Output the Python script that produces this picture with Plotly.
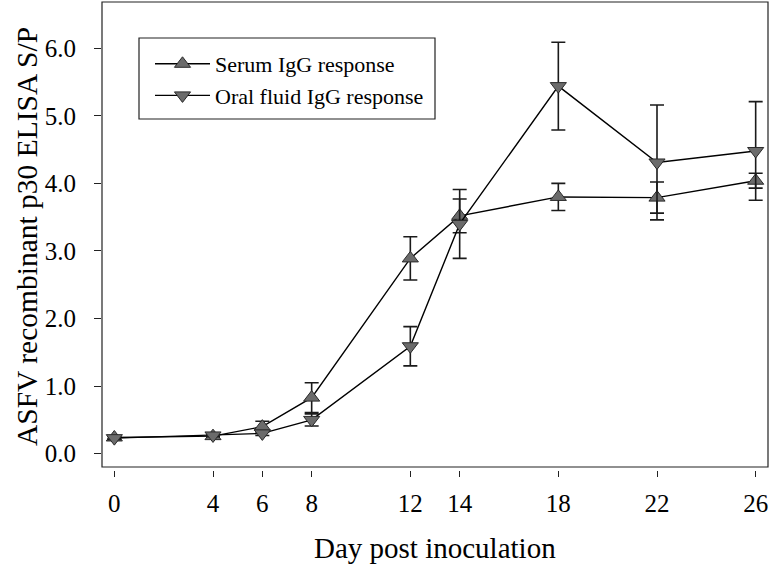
import plotly.graph_objects as go

days = [0, 4, 6, 8, 12, 14, 18, 22, 26]
tick_days = [0, 4, 6, 8, 12, 14, 18, 22, 26]
serum = [0.24, 0.26, 0.40, 0.83, 2.89, 3.52, 3.80, 3.79, 4.04]
serum_err = [0.02, 0.02, 0.08, 0.22, 0.32, 0.25, 0.20, 0.23, 0.11]
oral = [0.23, 0.27, 0.30, 0.50, 1.59, 3.40, 5.44, 4.31, 4.48]
oral_err = [0.02, 0.02, 0.03, 0.09, 0.29, 0.51, 0.65, 0.85, 0.73]
y_ticks = [0, 1, 2, 3, 4, 5, 6]

FONT = "Liberation Serif, Times New Roman, serif"
MFILL = "#6b6b6b"
MLINE = "#2a2a2a"

# geometry (pixels) used to place titles / legend frame
L, R, T, B = 102, 768, 2, 470
W, H = R - L, B - T


def px(x):
    return (x - L) / W


def py(y):
    return (B - y) / H


fig = go.Figure()
fig.add_trace(go.Scatter(
    x=days, y=serum, name="Serum IgG response", mode="lines+markers",
    line=dict(color="black", width=1.4),
    marker=dict(symbol="triangle-up", size=14, color=MFILL, line=dict(color=MLINE, width=1)),
    error_y=dict(type="data", array=serum_err, visible=True, color="#1a1a1a", thickness=1.6, width=7),
))
fig.add_trace(go.Scatter(
    x=days, y=oral, name="Oral fluid IgG response", mode="lines+markers",
    line=dict(color="black", width=1.4),
    marker=dict(symbol="triangle-down", size=14, color=MFILL, line=dict(color=MLINE, width=1)),
    error_y=dict(type="data", array=oral_err, visible=True, color="#1a1a1a", thickness=1.6, width=7),
))

# frame around the plotting region (y domain)
fig.add_shape(type="rect", xref="x domain", yref="y domain", x0=0, x1=1, y0=0, y1=1,
              line=dict(color="#222222", width=1.2), fillcolor="rgba(0,0,0,0)", layer="above")
# legend box
fig.add_shape(type="rect", xref="paper", yref="paper", x0=px(139), x1=px(435), y0=py(119), y1=py(38),
              line=dict(color="#222222", width=1.2), fillcolor="rgba(0,0,0,0)", layer="above")

fig.add_annotation(text="Day post inoculation", xref="paper", yref="paper",
                   x=px(435), y=py(548), xanchor="center", yanchor="middle", showarrow=False,
                   font=dict(family=FONT, size=29, color="black"))
fig.add_annotation(text="ASFV recombinant p30 ELISA S/P", xref="paper", yref="paper",
                   x=px(27), y=py(237), xanchor="center", yanchor="middle", showarrow=False,
                   textangle=-90, font=dict(family=FONT, size=29.5, color="black"))

fig.update_layout(
    width=770, height=567,
    margin=dict(l=L, r=770 - R, t=T, b=567 - B, autoexpand=False),
    paper_bgcolor="white", plot_bgcolor="white",
    font=dict(family=FONT, color="black", size=24),
    showlegend=True,
    legend=dict(
        x=px(150), y=py(43), xanchor="left", yanchor="top",
        bgcolor="rgba(0,0,0,0)", borderwidth=0,
        font=dict(family=FONT, size=22, color="black"),
        itemwidth=55, tracegroupgap=0,
    ),
    xaxis=dict(
        range=[-0.5, 26.5], tickvals=tick_days, ticktext=[str(d) for d in tick_days],
        showgrid=False, zeroline=False, showline=False, automargin=False,
        ticks="outside", ticklen=6, tickwidth=1, tickcolor="#222222",
        anchor="free", position=0,
        tickfont=dict(family=FONT, size=25),
        ticklabelstandoff=5,
    ),
    yaxis=dict(
        domain=[0.0064, 1], automargin=False,
        range=[-0.197, 6.685], tickvals=y_ticks, tickformat=".1f",
        showgrid=False, zeroline=False, showline=False,
        ticks="outside", ticklen=7, tickwidth=1, tickcolor="#222222",
        tickfont=dict(family=FONT, size=25),
        ticklabelstandoff=13,
    ),
)

fig.write_html(
    "out.html",
    config={"displayModeBar": False, "staticPlot": True},
    post_script="document.body.style.margin='0';document.body.style.overflow='hidden';",
)
